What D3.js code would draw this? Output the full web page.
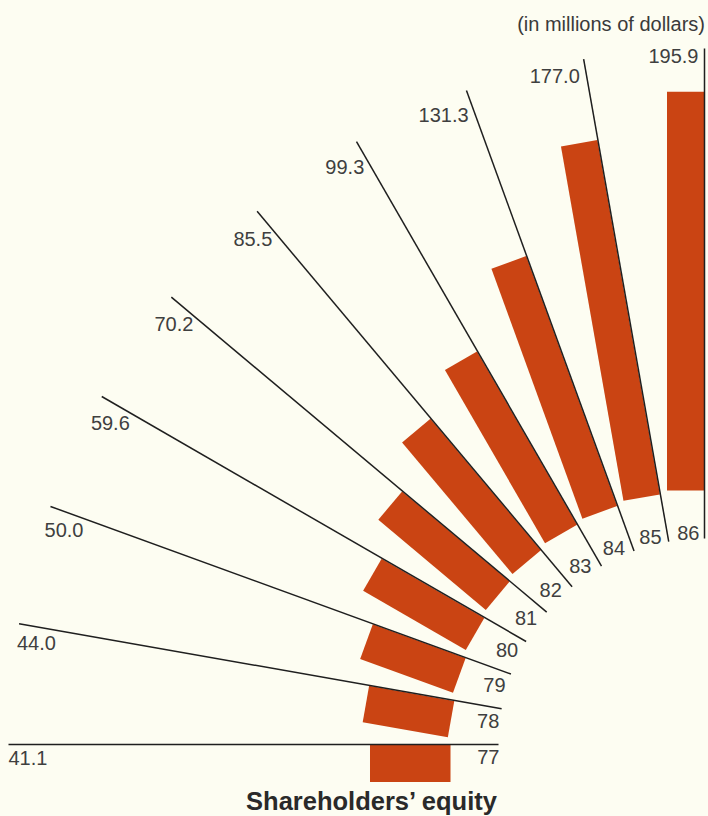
<!DOCTYPE html>
<html>
<head>
<meta charset="utf-8">
<script src="https://cdn.jsdelivr.net/npm/d3@7"></script>
<style>
  html, body { margin: 0; padding: 0; background: #fdfdf2; }
  svg { display: block; }
  text { font-family: "Liberation Sans", Arial, Helvetica, sans-serif; }
</style>
</head>
<body>
<svg id="chart" width="708" height="816"></svg>
<script>
// Shareholders' equity by year, in millions of dollars
const years  = ["77", "78", "79", "80", "81", "82", "83", "84", "85", "86"];
const values = [41.1, 44.0, 50.0, 59.6, 70.2, 85.5, 99.3, 131.3, 177.0, 195.9];
const valueLabels = ["41.1", "44.0", "50.0", "59.6", "70.2", "85.5", "99.3", "131.3", "177.0", "195.9"];

const W = 708, H = 816;
const svg = d3.select("#chart");
svg.append("rect").attr("width", W).attr("height", H).attr("fill", "#fdfdf2");

// Fan geometry: every year is a ray out of a common hub at the lower right
const cx = 704.5, cy = 744.5;
const lineInner = 206, lineOuter = 696;
const barInner = 254, barWidth = 37;

// angle (degrees, from the leftward horizontal, turning up) per year
const angle = d3.scalePoint().domain(years).range([0, 90]);
// radial length scale for the bars
const radius = d3.scaleLinear().domain([0, 200]).range([250, 661.2]);

const rad = d => d * Math.PI / 180;
// r along the ray, p across it (towards the previous year's side)
function pt(r, deg, p = 0) {
  const t = rad(deg);
  return [cx - r * Math.cos(t) - p * Math.sin(t), cy - r * Math.sin(t) + p * Math.cos(t)];
}

const data = years.map((y, i) => ({ year: y, value: values[i], label: valueLabels[i], a: angle(y) }));

// bars
svg.append("g").selectAll("path").data(data).join("path")
  .attr("d", d => {
    const r1 = radius(d.value);
    const c = [pt(barInner, d.a, 0.5), pt(r1, d.a, 0.5), pt(r1, d.a, barWidth + 0.5), pt(barInner, d.a, barWidth + 0.5)];
    return "M" + c.map(p => p.join(",")).join("L") + "Z";
  })
  .attr("fill", "#ca4413");

// rays
svg.append("g").selectAll("line").data(data).join("line")
  .attr("x1", d => pt(lineInner, d.a)[0]).attr("y1", d => pt(lineInner, d.a)[1])
  .attr("x2", d => pt(lineOuter, d.a)[0]).attr("y2", d => pt(lineOuter, d.a)[1])
  .attr("stroke", "#1f1f1f").attr("stroke-width", 1.5);

// place a horizontal label beside a ray, clear of it on the bar side
function placeLabel(sel, fontSize, radial, gapFn, inward) {
  sel.each(function(d) {
    const t = d3.select(this);
    const w = this.getComputedTextLength();
    const h = 0.716 * fontSize;
    const th = rad(d.a);
    const extD = (w / 2) * Math.cos(th) + (h / 2) * Math.sin(th);
    const extP = (w / 2) * Math.sin(th) + (h / 2) * Math.cos(th);
    const r = inward ? radial - extD : radial + extD;
    const [x, y] = pt(r, d.a, extP + gapFn(th));
    t.attr("x", x).attr("y", y + h / 2);
  });
}

const vLabels = svg.append("g").selectAll("text").data(data).join("text")
  .attr("font-size", 20).attr("fill", "#3f3f3f").attr("text-anchor", "middle")
  .text(d => d.label);
placeLabel(vLabels, 20, lineOuter, th => 1 + 5 * Math.pow(Math.cos(2 * th), 2), true);

const yLabels = svg.append("g").selectAll("text").data(data).join("text")
  .attr("font-size", 20).attr("fill", "#3f3f3f").attr("text-anchor", "middle")
  .text(d => d.year);
placeLabel(yLabels, 20, lineInner - 1, () => 5, false);

// unit note and title
svg.append("text").attr("x", 705).attr("y", 31).attr("text-anchor", "end")
  .attr("font-size", 20).attr("fill", "#3a3a3a").text("(in millions of dollars)");

svg.append("text").attr("x", 371.5).attr("y", 810).attr("text-anchor", "middle")
  .attr("font-size", 25.5).attr("font-weight", "bold").attr("fill", "#2a2a2a")
  .text("Shareholders’ equity");
</script>
</body>
</html>
